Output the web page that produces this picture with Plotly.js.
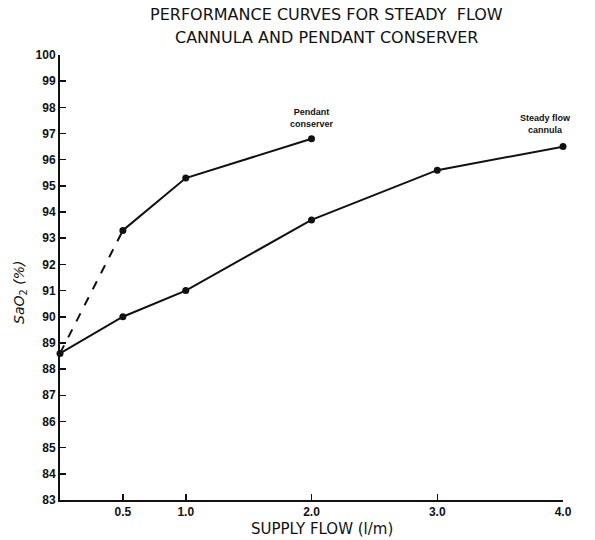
<!DOCTYPE html>
<html>
<head>
<meta charset="utf-8">
<script src="https://cdn.plot.ly/plotly-3.0.1.min.js"></script>
<style>
html,body{margin:0;padding:0;background:#fff;}
#chart{width:595px;height:540px;}
</style>
</head>
<body>
<div id="chart"></div>
<script>
// Data
const cannulaFlow = [0, 0.5, 1.0, 2.0, 3.0, 4.0];
const cannulaSaO2 = [88.6, 90.0, 91.0, 93.7, 95.6, 96.5];

const pendantDashFlow = [0, 0.5];
const pendantDashSaO2 = [88.6, 93.3];
const pendantFlow = [0.5, 1.0, 2.0];
const pendantSaO2 = [93.3, 95.3, 96.8];

const xTickVals = [0.5, 1.0, 2.0, 3.0, 4.0];
const xTickText = ['0.5', '1.0', '2.0', '3.0', '4.0'];
const yTickVals = [83,84,85,86,87,88,89,90,91,92,93,94,95,96,97,98,99,100];
const yTickText = yTickVals.map(String);

const titleLines = ['PERFORMANCE CURVES FOR STEADY  FLOW', 'CANNULA AND PENDANT CONSERVER'];

const ink = '#111';
const tickFont = {family: 'Liberation Sans Narrow, Liberation Sans, Arial, sans-serif', size: 12, color: ink, weight: 'bold'};
const titleFont = {family: 'DejaVu Sans, sans-serif', size: 16, color: ink};

const traces = [
  {x: cannulaFlow, y: cannulaSaO2, mode: 'lines+markers', type: 'scatter',
   line: {color: ink, width: 2}, marker: {color: ink, size: 7}, cliponaxis: false},
  {x: pendantDashFlow, y: pendantDashSaO2, mode: 'lines', type: 'scatter',
   line: {color: ink, width: 2, dash: 'dash'}, cliponaxis: false},
  {x: pendantFlow, y: pendantSaO2, mode: 'lines+markers', type: 'scatter',
   line: {color: ink, width: 2}, marker: {color: ink, size: 7}, cliponaxis: false}
];

const layout = {
  width: 595, height: 540,
  paper_bgcolor: '#fff', plot_bgcolor: '#fff',
  showlegend: false,
  margin: {l: 60, r: 32, t: 55, b: 40},
  xaxis: {
    range: [0, 4.0], showgrid: false, zeroline: false,
    showline: true, linecolor: ink, linewidth: 2,
    ticks: 'inside', ticklen: 6, tickwidth: 1.5, tickcolor: ink,
    tickvals: xTickVals, ticktext: xTickText, tickfont: tickFont
  },
  yaxis: {
    range: [83, 100], showgrid: false, zeroline: false,
    showline: true, linecolor: ink, linewidth: 2,
    ticks: 'inside', ticklen: 6, tickwidth: 1.5, tickcolor: ink,
    tickvals: yTickVals, ticktext: yTickText, tickfont: tickFont
  },
  annotations: [
    {text: titleLines[0], xref: 'paper', yref: 'paper', x: 0.53, y: 1.09,
     xanchor: 'center', yanchor: 'middle', showarrow: false, font: titleFont},
    {text: titleLines[1], xref: 'paper', yref: 'paper', x: 0.53, y: 1.04,
     xanchor: 'center', yanchor: 'middle', showarrow: false, font: titleFont},
    {text: 'SUPPLY FLOW (l/m)', xref: 'paper', yref: 'paper', x: 0.52, y: -0.066,
     xanchor: 'center', yanchor: 'middle', showarrow: false,
     font: {family: 'DejaVu Sans, sans-serif', size: 15, color: ink}},
    {text: '<i>SaO</i><sub>2</sub><i> (%)</i>', xref: 'paper', yref: 'paper', x: -0.08, y: 0.467,
     xanchor: 'center', yanchor: 'middle', showarrow: false, textangle: -90,
     font: {family: 'DejaVu Sans, sans-serif', size: 14, color: ink}},
    {text: '<b>Pendant<br>conserver</b>', xref: 'x', yref: 'y', x: 2.0, y: 97.1,
     xanchor: 'center', yanchor: 'bottom', showarrow: false,
     font: {family: 'Liberation Sans Narrow, Liberation Sans, Arial, sans-serif', size: 9, color: ink}},
    {text: '<b>Steady flow<br>cannula</b>', xref: 'x', yref: 'y', x: 3.86, y: 96.85,
     xanchor: 'center', yanchor: 'bottom', showarrow: false,
     font: {family: 'Liberation Sans Narrow, Liberation Sans, Arial, sans-serif', size: 9, color: ink}}
  ]
};

Plotly.newPlot('chart', traces, layout, {staticPlot: true, displayModeBar: false});
</script>
</body>
</html>
